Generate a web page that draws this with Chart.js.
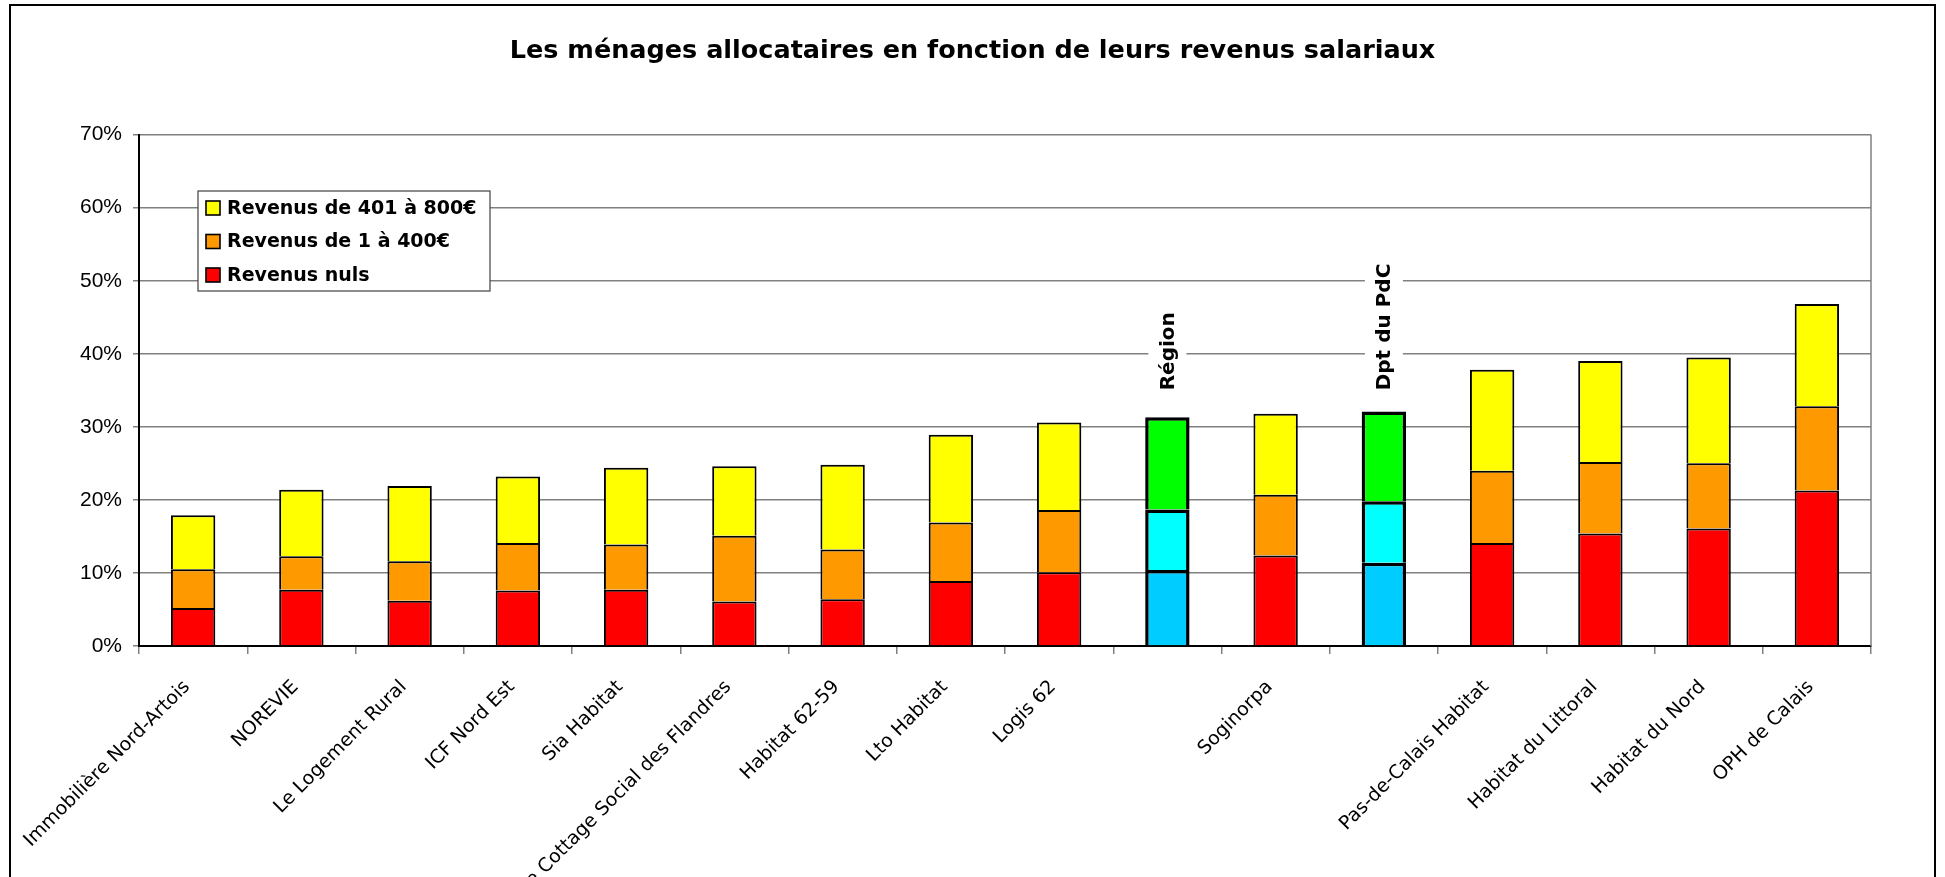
<!DOCTYPE html>
<html>
<head>
<meta charset="utf-8">
<title>Les ménages allocataires</title>
<script src="https://cdn.jsdelivr.net/npm/chart.js@4.4.1/dist/chart.umd.min.js"></script>
<style>
  body { margin: 0; background: #ffffff; }
</style>
</head>
<body>
<canvas id="graphMenages" width="1945" height="877"></canvas>
<script>
// data
var categories = ["Immobilière Nord-Artois", "NOREVIE", "Le Logement Rural", "ICF Nord Est", "Sia Habitat",
  "Le Cottage Social des Flandres", "Habitat 62-59", "Lto Habitat", "Logis 62", "Région", "Soginorpa",
  "Dpt du PdC", "Pas-de-Calais Habitat", "Habitat du Littoral", "Habitat du Nord", "OPH de Calais"];
var refCategories = ["Région", "Dpt du PdC"];
var seriesNames = ["Revenus nuls", "Revenus de 1 à 400€", "Revenus de 401 à 800€"];
var revenusNuls = [5.2, 7.7, 6.2, 7.6, 7.7, 6.1, 6.4, 8.9, 10.1, 10.4, 12.4, 11.4, 14.1, 15.4, 16.1, 21.3];
var revenus1a400 = [5.3, 4.6, 5.4, 6.5, 6.2, 9.0, 6.8, 8.0, 8.5, 8.3, 8.3, 8.4, 9.9, 9.8, 8.9, 11.5];
var revenus401a800 = [7.4, 9.1, 10.3, 9.1, 10.5, 9.5, 11.6, 12.0, 12.0, 12.6, 11.1, 12.3, 13.8, 13.8, 14.5, 14.0];
var yTicks = [0, 10, 20, 30, 40, 50, 60, 70];

var colors = ["#ff0000", "#ff9900", "#ffff00"];
var refColors = ["#00ccff", "#00ffff", "#00ff00"];
var fontFamily = "'DejaVu Sans', Verdana, sans-serif";

function isRef(i) {
  return refCategories.indexOf(categories[i]) >= 0;
}

function makeDataset(k, values) {
  return {
    label: seriesNames[k],
    data: values,
    backgroundColor: categories.map(function (c, i) { return isRef(i) ? refColors[k] : colors[k]; }),
    borderColor: "#000000",
    borderWidth: categories.map(function (c, i) { return isRef(i) ? 3.5 : 2; }),
    barPercentage: 0.41,
    categoryPercentage: 1.0
  };
}

// legend box drawn inside the plot, plus the vertical labels and frame
var extrasPlugin = {
  id: "extras",
  beforeDatasetsDraw: function (chart) {
    var ctx = chart.ctx, a = chart.chartArea;
    ctx.save();
    ctx.strokeStyle = "#808080";
    ctx.lineWidth = 1.5;
    ctx.beginPath();
    ctx.moveTo(a.right, a.top);
    ctx.lineTo(a.right, a.bottom);
    ctx.stroke();
    ctx.restore();
  },
  afterDatasetsDraw: function (chart) {
    var ctx = chart.ctx;
    var xs = chart.scales.x, ys = chart.scales.y;
    ctx.save();
    ctx.font = "bold 20px " + fontFamily;
    categories.forEach(function (c, i) {
      if (!isRef(i)) return;
      var x = xs.getPixelForValue(i);
      var y = ys.getPixelForValue(35);
      var w = ctx.measureText(c).width;
      ctx.fillStyle = "#ffffff";
      ctx.fillRect(x - 19, y - w - 4, 38, w + 6);
      ctx.translate(x, y);
      ctx.rotate(-Math.PI / 2);
      ctx.fillStyle = "#000000";
      ctx.textAlign = "left";
      ctx.textBaseline = "middle";
      ctx.fillText(c, 0, 1);
      ctx.setTransform(1, 0, 0, 1, 0, 0);
    });

    // legend
    var lx = 198, ly = 191, lw = 292, lh = 100;
    ctx.fillStyle = "#ffffff";
    ctx.fillRect(lx, ly, lw, lh);
    ctx.strokeStyle = "#404040";
    ctx.lineWidth = 1.2;
    ctx.strokeRect(lx, ly, lw, lh);
    ctx.font = "bold 19px " + fontFamily;
    ctx.textBaseline = "middle";
    var items = chart.data.datasets.slice().reverse();
    items.forEach(function (ds, j) {
      var cy = 208 + j * 33.5;
      ctx.fillStyle = colors[seriesNames.indexOf(ds.label)];
      ctx.fillRect(206, cy - 7, 14, 14);
      ctx.strokeStyle = "#000000";
      ctx.lineWidth = 1.6;
      ctx.strokeRect(206, cy - 7, 14, 14);
      ctx.fillStyle = "#000000";
      ctx.fillText(ds.label, 227, cy + 1);
    });
    ctx.restore();
  },
  afterDraw: function (chart) {
    var ctx = chart.ctx;
    ctx.save();
    ctx.strokeStyle = "#000000";
    ctx.lineWidth = 2;
    ctx.strokeRect(10, 5, 1925, 900);
    ctx.restore();
  }
};

function createStackedChart() {
  new Chart("graphMenages", {
    type: "bar",
    data: {
      labels: categories,
      datasets: [
        makeDataset(0, revenusNuls),
        makeDataset(1, revenus1a400),
        makeDataset(2, revenus401a800)
      ]
    },
    options: {
      responsive: false,
      animation: false,
      layout: { padding: 0 },
      plugins: {
        legend: { display: false },
        tooltip: { enabled: false },
        title: {
          display: true,
          text: "Les ménages allocataires en fonction de leurs revenus salariaux",
          color: "#000000",
          font: { family: fontFamily, size: 25.5, weight: "bold", lineHeight: 1.2 },
          padding: { top: 36, bottom: 68 }
        }
      },
      scales: {
        x: {
          stacked: true,
          grid: { display: true, drawOnChartArea: false, drawTicks: true, tickLength: 8, color: "#808080", lineWidth: 1.5, offset: true },
          border: { color: "#000000", width: 2 },
          ticks: {
            autoSkip: false,
            minRotation: 45,
            maxRotation: 45,
            padding: 22,
            labelOffset: -6,
            color: "#000000",
            font: { family: fontFamily, size: 19 },
            callback: function (v, i) { return isRef(i) ? "" : categories[i]; }
          },
          afterFit: function (scale) {
            scale.height = 231;
            scale.paddingLeft = 0;
            scale.paddingRight = 74;
          }
        },
        y: {
          stacked: true,
          min: 0,
          max: 70,
          afterBuildTicks: function (scale) {
            scale.ticks = yTicks.map(function (v) { return { value: v }; });
          },
          grid: { color: "#808080", lineWidth: 1.5, tickLength: 6 },
          border: { color: "#000000", width: 2 },
          ticks: {
            padding: 11,
            color: "#000000",
            font: { family: "'Liberation Sans', Arial, sans-serif", size: 21 },
            callback: function (v) { return v + "%"; }
          },
          afterFit: function (scale) {
            scale.width = 139;
          }
        }
      }
    },
    plugins: [extrasPlugin]
  });
}

createStackedChart();
</script>
</body>
</html>
